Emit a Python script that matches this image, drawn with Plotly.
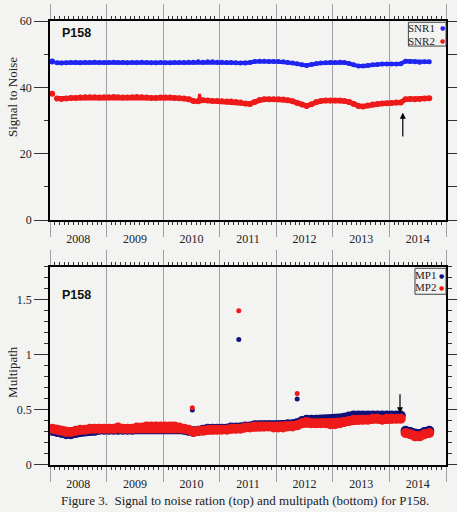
import plotly.graph_objects as go

# ---------------- data ----------------
# monthly samples (mid-month)
snr_months = [f"{y}-{m:02d}-15" for y in range(2008, 2015) for m in range(1, 13)
              if (y, m) >= (2008, 2) and (y, m) <= (2014, 9)]
snr1 = [47.4, 47.3, 47.4, 47.5, 47.5, 47.4, 47.5, 47.5, 47.6, 47.5, 47.5,
        47.5, 47.6, 47.5, 47.5, 47.4, 47.5, 47.5, 47.6, 47.5, 47.4, 47.4, 47.5,
        47.4, 47.4, 47.5, 47.5, 47.5, 47.6, 47.6, 47.7, 47.6, 47.7, 47.7, 47.6,
        47.6, 47.5, 47.5, 47.4, 47.3, 47.3, 47.5, 47.8, 47.9, 47.9, 47.8, 47.8,
        47.8, 47.7, 47.5, 47.3, 47.1, 46.8, 46.6, 46.9, 47.2, 47.3, 47.4, 47.5,
        47.5, 47.6, 47.5, 47.2, 46.8, 46.4, 46.4, 46.6, 46.8, 46.9, 47.0, 47.0,
        47.0, 47.0, 47.1, 47.9, 47.8, 47.7, 47.6, 47.7, 47.7]
snr2 = [36.6, 36.5, 36.6, 36.8, 36.8, 36.9, 37.0, 37.0, 37.0, 36.9, 37.0,
        37.0, 37.1, 37.0, 36.9, 36.9, 37.0, 37.1, 37.0, 36.9, 36.8, 36.8, 36.9,
        36.9, 36.9, 36.8, 36.7, 36.6, 36.4, 35.9, 35.8, 36.1, 36.0, 35.9, 35.9,
        35.8, 35.7, 35.7, 35.6, 35.4, 35.1, 35.0, 35.6, 36.2, 36.4, 36.4, 36.4,
        36.4, 36.3, 36.1, 35.8, 35.3, 34.8, 34.4, 34.9, 35.6, 35.9, 36.0, 36.0,
        36.0, 36.0, 35.9, 35.6, 35.0, 34.4, 34.2, 34.5, 34.8, 35.0, 35.1, 35.2,
        35.3, 35.4, 35.4, 36.4, 36.5, 36.4, 36.5, 36.6, 36.7]
snr_first_date = ["2008-01-15"]
snr1_first = [47.8]
snr2_first = [38.1]
snr2_spike_dates = ["2010-08-18", "2010-08-24", "2010-08-30"]
snr2_spike = [36.0, 38.0, 36.0]

mp_months_a = [f"{y}-{m:02d}-15" for y in range(2008, 2015) for m in range(1, 13)
               if (y, m) <= (2014, 3)]
mp_months_b = ["2014-04-15", "2014-05-15", "2014-06-15", "2014-07-15", "2014-08-15", "2014-09-15"]
mp1_a = [0.31, 0.30, 0.29, 0.28, 0.28, 0.29, 0.30, 0.31, 0.31, 0.31, 0.32, 0.32,
         0.32, 0.32, 0.32, 0.32, 0.32, 0.32, 0.33, 0.33, 0.34, 0.34, 0.34, 0.34,
         0.34, 0.34, 0.34, 0.33, 0.32, 0.31, 0.30, 0.31, 0.32, 0.33, 0.33, 0.33,
         0.33, 0.33, 0.34, 0.34, 0.34, 0.35, 0.35, 0.36, 0.36, 0.36, 0.36, 0.35,
         0.35, 0.36, 0.37, 0.37, 0.38, 0.40, 0.41, 0.41, 0.41, 0.41, 0.41, 0.41,
         0.41, 0.42, 0.43, 0.44, 0.45, 0.45, 0.45, 0.45, 0.45, 0.45, 0.45, 0.45,
         0.45, 0.45, 0.45]
mp1_b = [0.31, 0.30, 0.28, 0.28, 0.30, 0.31]
mp2_a = [0.33, 0.32, 0.31, 0.30, 0.30, 0.31, 0.32, 0.32, 0.33, 0.33, 0.33, 0.33,
         0.33, 0.33, 0.34, 0.33, 0.33, 0.33, 0.34, 0.34, 0.35, 0.35, 0.35, 0.35,
         0.35, 0.35, 0.35, 0.34, 0.33, 0.32, 0.30, 0.31, 0.31, 0.32, 0.32, 0.32,
         0.32, 0.32, 0.33, 0.33, 0.33, 0.34, 0.34, 0.35, 0.35, 0.35, 0.35, 0.34,
         0.34, 0.34, 0.35, 0.35, 0.36, 0.38, 0.39, 0.38, 0.38, 0.38, 0.38, 0.37,
         0.37, 0.38, 0.39, 0.40, 0.41, 0.41, 0.41, 0.41, 0.42, 0.42, 0.41, 0.42,
         0.42, 0.42, 0.42]
mp2_b = [0.29, 0.28, 0.26, 0.26, 0.28, 0.29]
outlier_dates = ["2010-07-08", "2011-05-04", "2012-05-15"]
mp1_out = [0.50, 1.14, 0.60]
mp2_out = [0.52, 1.40, 0.65]

year_range = ["2008-01-01", "2015-01-01"]

# ---------------- styling ----------------
BG = "#f3f3f2"
BLUE = "#1f24f0"
RED = "#ee1a1a"
NAVY = "#10127a"
SERIF = "Liberation Serif"
SANS = "Liberation Sans"

fig = go.Figure()

def band(x, y, color, width, xa, ya):
    fig.add_trace(go.Scatter(x=x, y=y, mode="lines+markers", xaxis=xa, yaxis=ya,
                             line=dict(color=color, width=width),
                             marker=dict(color=color, size=width + 1),
                             showlegend=False, hoverinfo="skip"))

def dots(x, y, color, size, xa, ya):
    fig.add_trace(go.Scatter(x=x, y=y, mode="markers", xaxis=xa, yaxis=ya,
                             marker=dict(color=color, size=size),
                             showlegend=False, hoverinfo="skip"))

# top panel
band(snr_months, snr1, BLUE, 4, "x", "y")
band(snr_months, snr2, RED, 5, "x", "y")
fig.add_trace(go.Scatter(x=snr2_spike_dates, y=snr2_spike, mode="lines", xaxis="x", yaxis="y",
                         line=dict(color=RED, width=3), showlegend=False, hoverinfo="skip"))
dots(snr_first_date, snr1_first, BLUE, 6, "x", "y")
dots(snr_first_date, snr2_first, RED, 6, "x", "y")

# bottom panel
band(mp_months_a, mp1_a, NAVY, 9, "x2", "y2")
band(mp_months_b, mp1_b, NAVY, 9, "x2", "y2")
band(mp_months_a, mp2_a, RED, 9, "x2", "y2")
band(mp_months_b, mp2_b, RED, 9, "x2", "y2")
dots(outlier_dates, mp1_out, NAVY, 5, "x2", "y2")
dots(outlier_dates, mp2_out, RED, 5, "x2", "y2")

tickfont = dict(family=SERIF, size=12, color="#222")

xcommon = dict(type="date", range=year_range, dtick="M12", tick0="2008-01-01",
               ticklabelmode="period", tickformat="%Y", tickfont=tickfont,
               showgrid=True, gridcolor="#a0a0a0", gridwidth=1,
               ticks="outside", ticklen=15, tickcolor="#a0a0a0", tickwidth=1,
               ticklabelstandoff=-8, automargin=False,
               showline=True, linecolor="black", linewidth=1.5, mirror="ticks",
               zeroline=False,
               minor=dict(dtick="M1", ticks="outside", ticklen=3, tickcolor="#333",
                          tickwidth=1, showgrid=False))

ycommon = dict(ticks="outside", ticklen=14, tickcolor="#333", tickwidth=1,
               tickfont=tickfont, showline=True, linecolor="black", linewidth=1.5,
               showgrid=False, zeroline=False, automargin=False)

yright = dict(ticks="outside", ticklen=10, tickcolor="#333", showticklabels=False,
              showline=True, linecolor="black", linewidth=1.5,
              showgrid=False, zeroline=False, automargin=False)

fig.update_layout(
    width=457, height=512,
    margin=dict(l=50, r=11, t=21, b=47),
    paper_bgcolor=BG, plot_bgcolor=BG,
    xaxis=dict(anchor="y", **xcommon),
    xaxis2=dict(anchor="y2", **xcommon),
    yaxis=dict(domain=[0.5518, 1], range=[0, 60], dtick=20,
               minor=dict(dtick=10, ticks="outside", ticklen=4, tickcolor="#333"),
               **ycommon),
    yaxis2=dict(domain=[0, 0.4466], range=[0, 1.8], dtick=0.5, anchor="x2",
                minor=dict(dtick=0.1, ticks="outside", ticklen=4, tickcolor="#333"),
                **ycommon),
    yaxis3=dict(overlaying="y", side="right", anchor="x", range=[0, 60], dtick=10, **yright),
    yaxis4=dict(overlaying="y2", side="right", anchor="x2", range=[0, 1.8], dtick=0.5,
                minor=dict(dtick=0.1, ticks="outside", ticklen=4, tickcolor="#333"),
                **yright),
)

# invisible traces so the right-hand overlay axes are drawn
fig.add_trace(go.Scatter(x=[year_range[0]], y=[0], xaxis="x", yaxis="y3", mode="markers",
                         marker=dict(opacity=0), showlegend=False, hoverinfo="skip"))
fig.add_trace(go.Scatter(x=[year_range[0]], y=[0], xaxis="x2", yaxis="y4", mode="markers",
                         marker=dict(opacity=0), showlegend=False, hoverinfo="skip"))

ann = []
# station labels
ann.append(dict(text="<b>P158</b>", xref="x domain", yref="y domain", x=0.025, y=0.938,
                xanchor="left", yanchor="middle", showarrow=False,
                font=dict(family=SANS, size=12.5, color="#111")))
ann.append(dict(text="<b>P158</b>", xref="x2 domain", yref="y2 domain", x=0.025, y=0.857,
                xanchor="left", yanchor="middle", showarrow=False,
                font=dict(family=SANS, size=12.5, color="#111")))
# axis titles
ann.append(dict(text="Signal to Noise", xref="paper", yref="paper", x=-0.093, y=0.829,
                textangle=-90, showarrow=False, xanchor="center", yanchor="middle",
                font=dict(family=SERIF, size=13, color="#222")))
ann.append(dict(text="Multipath", xref="paper", yref="paper", x=-0.093, y=0.210,
                textangle=-90, showarrow=False, xanchor="center", yanchor="middle",
                font=dict(family=SERIF, size=13, color="#222")))
# caption
ann.append(dict(text="Figure 3.  Signal to noise ration (top) and multipath (bottom) for P158.",
                xref="paper", yref="paper", x=0.4924, y=-0.080, showarrow=False,
                xanchor="center", yanchor="middle",
                font=dict(family=SERIF, size=13, color="#222")))
# arrows
ann.append(dict(x="2014-03-28", y=32.3, ax="2014-03-28", ay=24.7, xref="x", yref="y",
                axref="x", ayref="y", text="", showarrow=True, arrowhead=2,
                arrowsize=1, arrowwidth=1.2, arrowcolor="black"))
ann.append(dict(x="2014-03-10", y=0.469, ax="2014-03-10", ay=0.656, xref="x2", yref="y2",
                axref="x2", ayref="y2", text="", showarrow=True, arrowhead=2,
                arrowsize=1, arrowwidth=1.2, arrowcolor="black"))

# manual legends (text then dot, boxed)
def legend(xd, yd, box, items):
    fig.add_shape(type="rect", xref=xd, yref=yd, x0=box[0], x1=box[1], y0=box[2], y1=box[3],
                  line=dict(color="#444", width=1), fillcolor=BG, layer="above")
    for name, color, ty, tx, dx in items:
        ann.append(dict(text=name, xref=xd, yref=yd, x=tx, y=ty, xanchor="right",
                        yanchor="middle", showarrow=False,
                        font=dict(family=SERIF, size=11, color="#222")))
        ann.append(dict(text="●", xref=xd, yref=yd, x=dx, y=ty, xanchor="center",
                        yanchor="middle", showarrow=False,
                        font=dict(family="DejaVu Sans", size=6, color=color)))

legend("x domain", "y domain", (0.905, 1.0, 0.874, 0.9935),
       [("SNR1", BLUE, 0.966, 0.9765, 0.9907), ("SNR2", RED, 0.901, 0.9765, 0.9907)])
legend("x2 domain", "y2 domain", (0.9217, 1.0, 0.861, 0.992),
       [("MP1", NAVY, 0.958, 0.9806, 0.989), ("MP2", RED, 0.896, 0.9806, 0.989)])

fig.update_layout(annotations=ann)
fig.write_html("out.html", config={"displayModeBar": False},
               post_script="document.body.style.margin='0';")
